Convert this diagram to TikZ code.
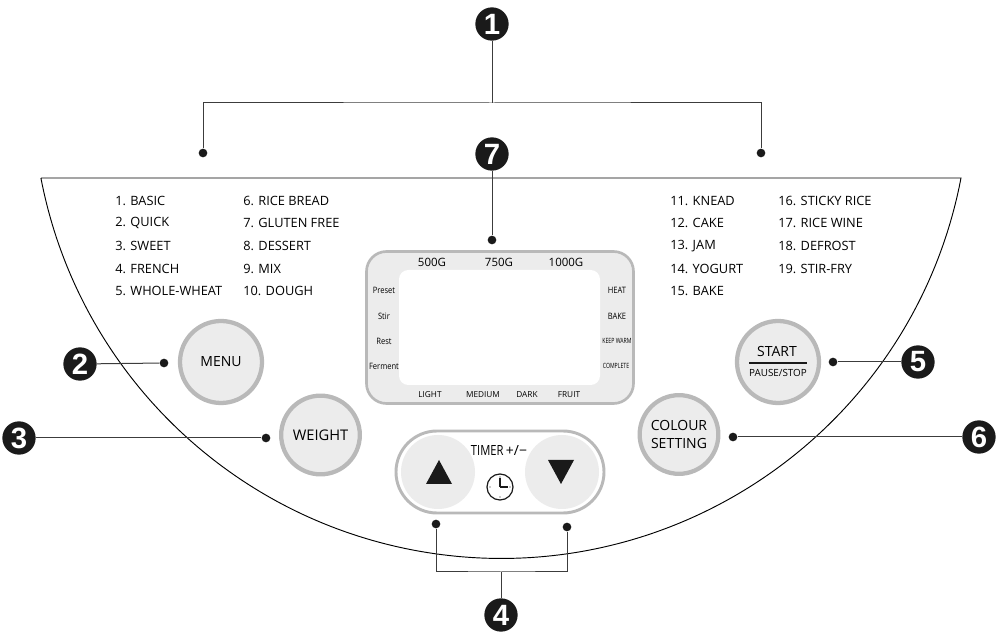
\documentclass[tikz,border=0pt]{standalone}
\usepackage{fontspec}
\setmainfont{Open Sans}
\newfontfamily\numfont{Liberation Sans}
\usetikzlibrary{positioning}
\definecolor{ring}{HTML}{B9B9B9}
\definecolor{panel}{HTML}{ECECEC}
\definecolor{ink}{HTML}{1A1A1A}
\definecolor{wire}{HTML}{3C3C3C}
\newcommand{\squeeze}[1]{\scalebox{.72}[1]{#1}}
\newcommand{\narrow}[1]{\scalebox{.86}[1]{#1}}
\begin{document}
\begin{tikzpicture}[x=0.75pt,y=-0.75pt,font=\fontsize{9.6}{10}\selectfont,
    bullet/.style={circle,fill=ink,text=white,minimum size=25pt,inner sep=0pt,font=\numfont\bfseries\fontsize{22}{22}\selectfont},
    dot/.style={circle,fill=ink,minimum size=6.5pt,inner sep=0pt},
    lead/.style={draw=wire,line width=.75pt},
    button/.style={circle,draw=ring,line width=3.2pt,fill=panel,minimum size=61.5pt,inner sep=0pt,align=center,font=\fontsize{10.5}{13.5}\selectfont},
    smallbutton/.style={button,minimum size=59pt},
    item/.style={anchor=west,inner sep=0pt},
    toplabel/.style={inner sep=0pt,font=\fontsize{8.6}{9}\selectfont},
    sidelabel/.style={inner sep=0pt,font=\fontsize{6.6}{7}\selectfont},
    tinylabel/.style={inner sep=0pt,font=\fontsize{5.4}{6}\selectfont},
    lowlabel/.style={inner sep=0pt,font=\fontsize{6.2}{7}\selectfont}]
    \useasboundingbox (0,0) rectangle (1001,634);
    % panel outline
    \coordinate (pl) at (41,178);
    \coordinate (pr) at (961,178);
    \draw[line width=.7pt] (pl) -- (pr) arc[start angle=10.83,end angle=169.17,radius=468.4];
    % programme list
    \foreach \x/\y/\t [count=\n] in {115/201/1. BASIC,115/223/2. QUICK,115/246/3. SWEET,115/269/4. FRENCH,115/291/5. WHOLE-WHEAT,
        243/201/6. RICE BREAD,243/223/7. GLUTEN FREE,243/246/8. DESSERT,243/269/9. MIX,243/291/10. DOUGH,
        670/201/11. KNEAD,670/223/12. CAKE,670/246/13. JAM,670/269/14. YOGURT,670/291/15. BAKE,
        778/201/16. STICKY RICE,778/223/17. RICE WINE,778/246/18. DEFROST,778/269/19. STIR-FRY}
      \node[item] (prog\n) at (\x,\y) {\t};
    % display
    \draw[draw=ring,line width=2pt,fill=panel,rounded corners=15pt] (366.5,251.5) rectangle (633.5,403.5);
    \fill[white,rounded corners=7pt] (399,270) rectangle (600,385);
    \foreach \x/\t [count=\n] in {432/500G,499/750G,566/1000G}
      \node[toplabel] (weight\n) at (\x,262) {\t};
    \foreach \y/\t [count=\n] in {290/Preset,316/Stir,341/Rest,366/Ferment}
      \node[sidelabel] (stage\n) at (384,\y) {\narrow{\t}};
    \node[sidelabel] (heat) at (617,290) {\narrow{HEAT}};
    \node[sidelabel] (bake) at (617,316) {\narrow{BAKE}};
    \node[tinylabel] (warm) at (617,341) {\squeeze{KEEP WARM}};
    \node[tinylabel] (done) at (616,366) {\squeeze{COMPLETE}};
    \foreach \x/\t [count=\n] in {430/LIGHT,483/MEDIUM,527/DARK,569/FRUIT}
      \node[lowlabel] (crust\n) at (\x,395) {\t};
    % buttons
    \node[button] (menu) at (221,362) {MENU};
    \node[smallbutton,font=\fontsize{11}{13.5}\selectfont] (weight) at (320.5,435) {WEIGHT};
    \node[button] (start) at (778,362) {};
    \node[inner sep=0pt,font=\fontsize{10.5}{12}\selectfont] (startlbl) at (777,352) {START};
    \node[inner sep=0pt,font=\fontsize{7.4}{8}\selectfont] (pauselbl) at (778,373) {PAUSE/STOP};
    \coordinate (rl) at (749,363);
    \coordinate (rr) at (807,363);
    \draw[ink,line width=1pt] (rl) -- (rr);
    \node[smallbutton] (colour) at (679,434.5) {COLOUR\\SETTING};
    % timer
    \draw[draw=ring,line width=2.2pt,fill=white,rounded corners=30.7pt] (396,431) rectangle (604,513);
    \fill[panel] (438,472) circle[radius=37];
    \fill[panel] (562,472) circle[radius=37];
    \fill[ink,line join=round] (439,460) -- (452,484) -- (426,484) -- cycle;
    \fill[ink] (548,460) -- (574,460) -- (561,484) -- cycle;
    \node[inner sep=0pt,font=\fontsize{10.5}{11}\selectfont] (timer) at (499,451) {\scalebox{.8}[1]{TIMER}\,+/−};
    \node[circle,draw=ink,line width=.9pt,minimum size=19.5pt,inner sep=0pt] (clock) at (500,487) {};
    \draw[ink,line width=.8pt] (clock.center) -- +(0,-9);
    \draw[ink,line width=.8pt] (clock.center) -- +(8,0);
    \foreach \a in {0,90,180,270}
      \fill[ink] (clock.center) ++(\a:10) circle[radius=.7];
    % callouts
    \foreach \x/\y/\t in {492/24/1,492/154/7,80/364/2,19/438/3,501/615/4,918/362/5,979/437/6}
      \node[bullet] (num\t) at (\x,\y) {\t};
    \foreach \x/\y/\n in {203/153/a,761/153/b,492/240/c,164/363/d,266/438/e,436/524/f,567/527/g,833/362/h,733/437/i}
      \node[dot] (pin\n) at (\x,\y) {};
    \coordinate (fork1) at (492,103);
    \coordinate (fork4) at (501,572);
    \draw[lead] (num1) -- (fork1);
    \draw[lead] (pina) |- (fork1) -| (pinb);
    \draw[lead] (num7) -- (pinc);
    \draw[lead] (num2) -- (pind);
    \draw[lead] (num3) -- (pine);
    \draw[lead] (num4) -- (fork4);
    \draw[lead] (pinf) |- (fork4) -| (ping);
    \draw[lead] (num5) -- (pinh);
    \draw[lead] (num6) -- (pini);
\end{tikzpicture}
\end{document}
